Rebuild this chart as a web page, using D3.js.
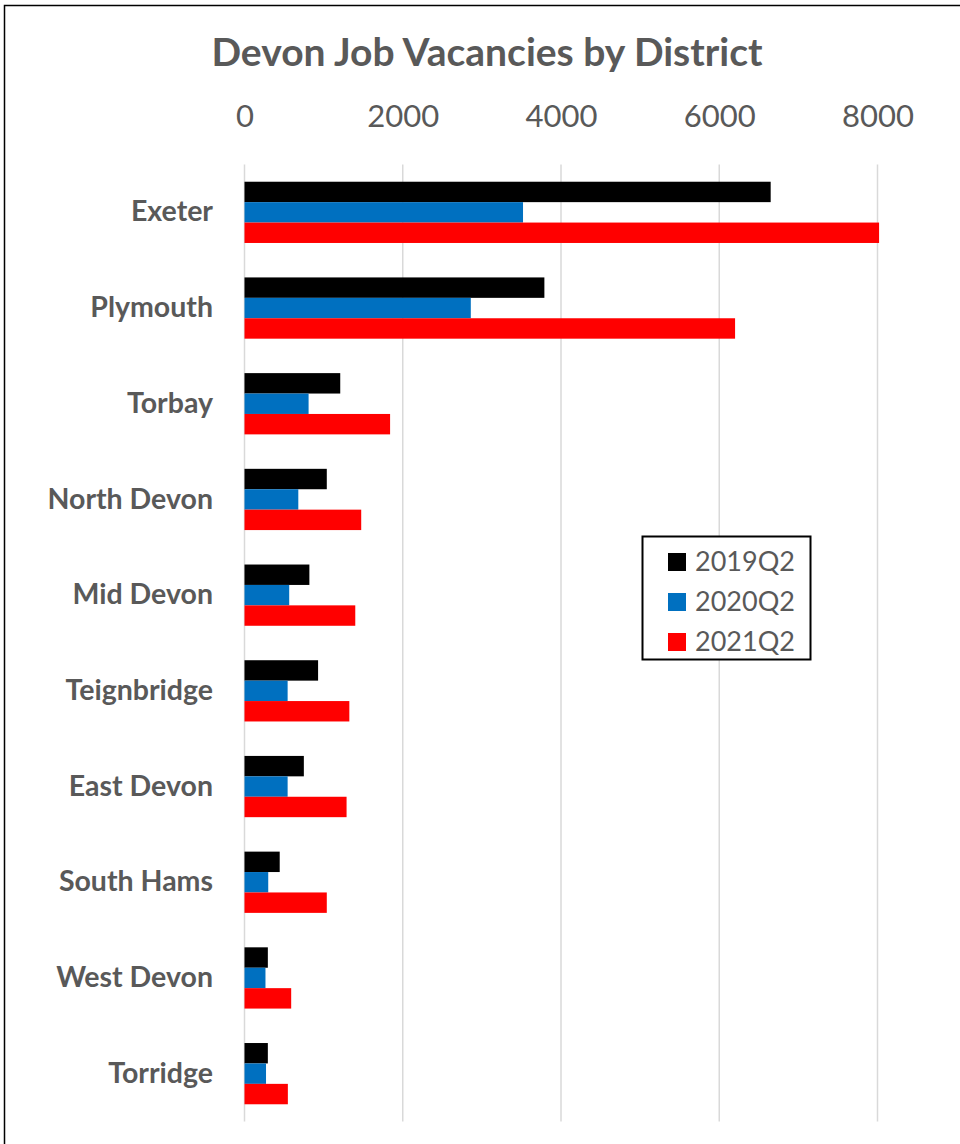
<!DOCTYPE html>
<html>
<head>
<meta charset="utf-8">
<script src="https://cdn.jsdelivr.net/npm/d3@7"></script>
<style>
  body { margin: 0; background: #fff; }
  .content { width: 960px; height: 1144px; }
  text { font-family: Lato, "Open Sans", sans-serif; fill: #595959; }
</style>
</head>
<body>
<div class="content"></div>
<script>
var districts = ['Exeter', 'Plymouth', 'Torbay', 'North Devon', 'Mid Devon',
  'Teignbridge', 'East Devon', 'South Hams', 'West Devon', 'Torridge'];
var seriesNames = ['2019Q2', '2020Q2', '2021Q2'];
var seriesColors = ['#000000', '#0070c0', '#ff0000'];
var v2019 = [6650, 3790, 1210, 1040, 820, 930, 750, 445, 295, 295];
var v2020 = [3520, 2860, 810, 680, 565, 545, 545, 300, 265, 272];
var v2021 = [8020, 6200, 1840, 1475, 1400, 1325, 1290, 1040, 590, 548];
var xTicks = [0, 2000, 4000, 6000, 8000];

var data = districts.map(function (d, i) {
  return { name: d, values: [v2019[i], v2020[i], v2021[i]] };
});

var svg = d3.select('.content')
  .append('svg')
  .attr('width', 960)
  .attr('height', 1144);

// chart frame
svg.append('rect')
  .attr('x', 4.5).attr('y', 5.5)
  .attr('width', 1000).attr('height', 1200)
  .attr('fill', 'none')
  .attr('stroke', '#000')
  .attr('stroke-width', 1.5);

var x = d3.scaleLinear().domain([0, 8000]).range([244.5, 877.5]);

var y = d3.scaleBand().domain(districts)
  .range([164.5, 1121.5])
  .paddingInner(0.36)
  .paddingOuter(0.18);

var ySub = d3.scaleBand().domain(seriesNames).range([0, y.bandwidth()]);

svg.append('text')
  .attr('x', 487).attr('y', 66)
  .attr('text-anchor', 'middle')
  .style('font-size', '39px')
  .style('font-weight', 'bold')
  .text('Devon Job Vacancies by District');

// gridlines
svg.append('g')
  .selectAll('line')
  .data(xTicks)
  .enter()
  .append('line')
  .attr('x1', function (d) { return x(d); })
  .attr('x2', function (d) { return x(d); })
  .attr('y1', 164.5).attr('y2', 1121.5)
  .attr('stroke', '#d9d9d9')
  .attr('stroke-width', 1.5);

// top axis labels
var axisX = svg.append('g')
  .attr('transform', 'translate(0,127)')
  .call(d3.axisTop(x).tickValues(xTicks).tickFormat(d3.format('d')).tickSize(0).tickPadding(0));
axisX.select('.domain').remove();
axisX.selectAll('text')
  .style('font-family', 'Lato, "Open Sans", sans-serif')
  .style('font-size', '31px')
  .style('fill', '#595959')
  .attr('dy', 0);

// left category labels
var axisY = svg.append('g')
  .attr('transform', 'translate(213,0)')
  .call(d3.axisLeft(y).tickSize(0).tickPadding(0));
axisY.select('.domain').remove();
axisY.selectAll('text')
  .style('font-family', 'Lato, "Open Sans", sans-serif')
  .style('font-size', '28.5px')
  .style('font-weight', 'bold')
  .style('fill', '#595959');

// bars
var groups = svg.append('g')
  .selectAll('g')
  .data(data)
  .enter()
  .append('g')
  .attr('transform', function (d) { return 'translate(0,' + y(d.name) + ')'; });

groups.selectAll('rect')
  .data(function (d) { return d.values.map(function (v, i) { return { s: seriesNames[i], v: v, i: i }; }); })
  .enter()
  .append('rect')
  .attr('x', x(0))
  .attr('y', function (d) { return ySub(d.s); })
  .attr('width', function (d) { return x(d.v) - x(0); })
  .attr('height', ySub.bandwidth())
  .attr('fill', function (d) { return seriesColors[d.i]; });

// legend
var legend = svg.append('g').attr('transform', 'translate(642,536)');
legend.append('rect')
  .attr('x', 0.5).attr('y', 0.5)
  .attr('width', 168).attr('height', 123)
  .attr('fill', '#fff')
  .attr('stroke', '#000')
  .attr('stroke-width', 2);

var items = legend.selectAll('.item')
  .data(seriesNames)
  .enter()
  .append('g')
  .attr('class', 'item')
  .attr('transform', function (d, i) { return 'translate(26,' + (17 + i * 40) + ')'; });

items.append('rect')
  .attr('width', 18).attr('height', 18)
  .attr('fill', function (d, i) { return seriesColors[i]; });

items.append('text')
  .attr('x', 27).attr('y', 18)
  .style('font-size', '27px')
  .text(function (d) { return d; });
</script>
</body>
</html>
